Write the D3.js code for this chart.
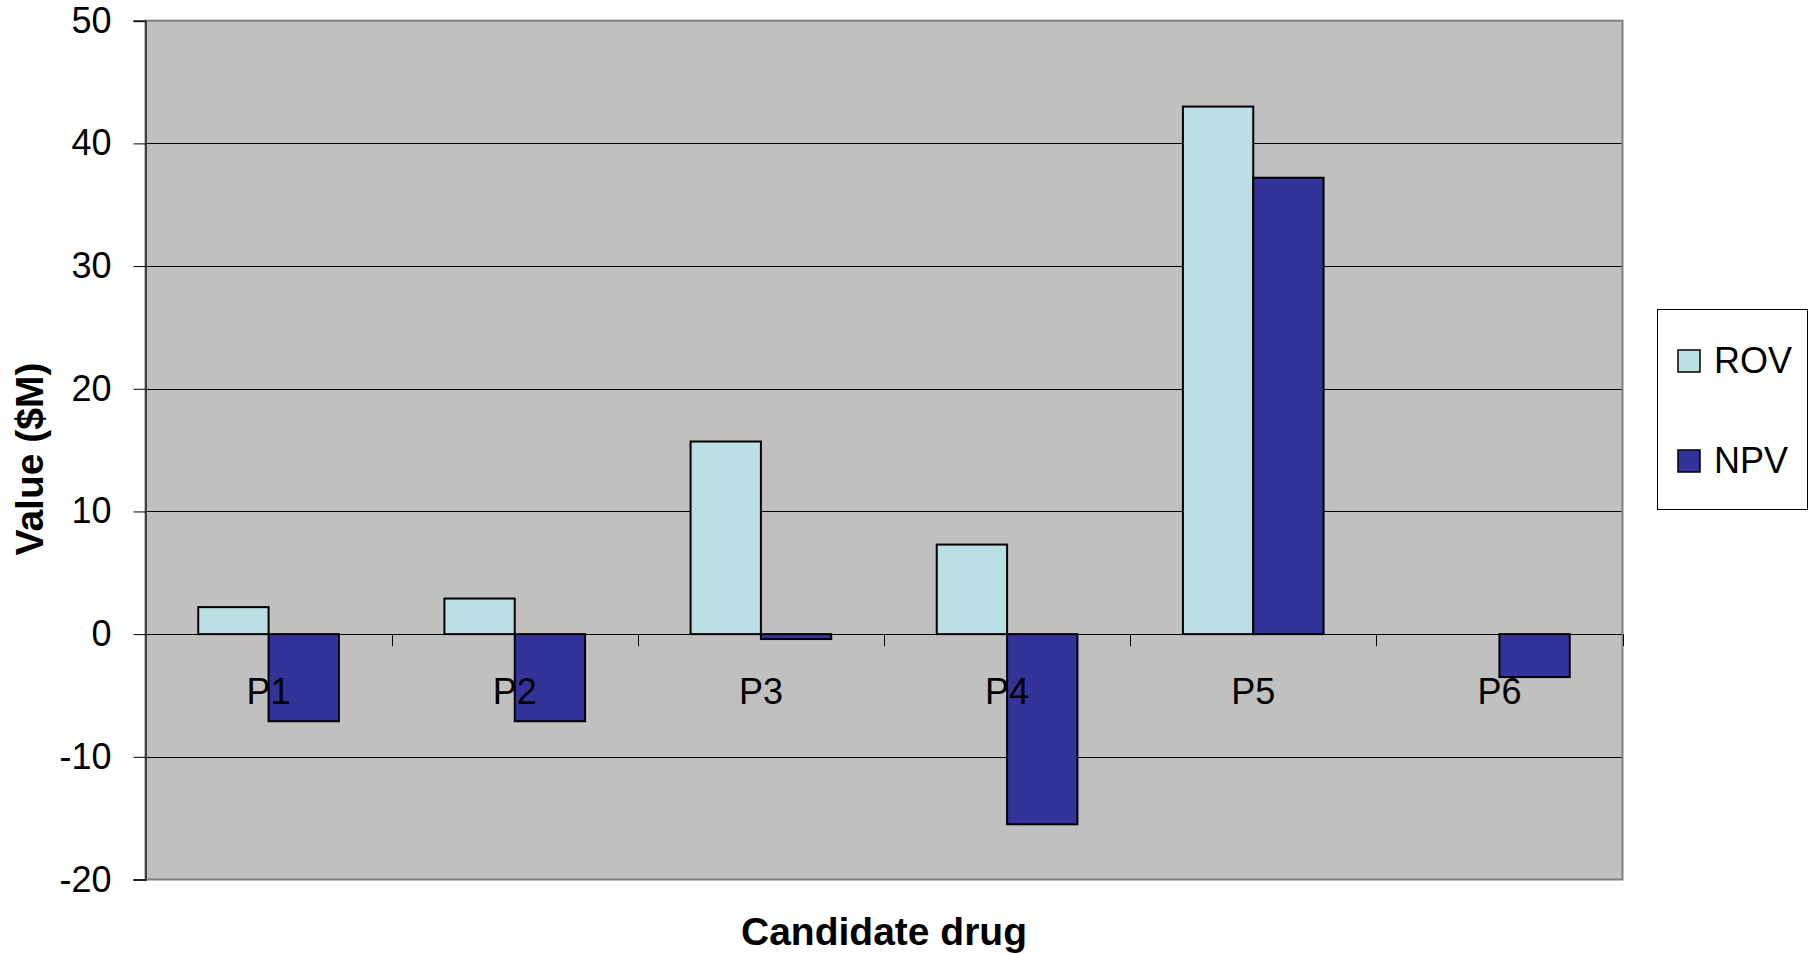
<!DOCTYPE html>
<html>
<head>
<meta charset="utf-8">
<script src="https://cdn.jsdelivr.net/npm/d3@7"></script>
<style>
  html, body { margin: 0; padding: 0; background: #ffffff; }
  svg { display: block; }
  text { font-family: "Liberation Sans", Arial, sans-serif; fill: #000; }
</style>
</head>
<body>
<svg id="chart" width="1814" height="955"></svg>
<script>
const categories = ["P1", "P2", "P3", "P4", "P5", "P6"];
const seriesNames = ["ROV", "NPV"];
const rovValues = [2.2, 2.9, 15.7, 7.3, 43.0, 0];
const npvValues = [-7.1, -7.1, -0.4, -15.5, 37.2, -3.5];
const yTicks = [-20, -10, 0, 10, 20, 30, 40, 50];
const seriesColors = ["#BBE0E3", "#333399"];

const svg = d3.select("#chart");
const plot = { left: 145.5, right: 1622.5, top: 20.7, bottom: 879.5 };

const x0 = d3.scaleBand().domain(categories).range([plot.left, plot.right]).paddingInner(0).paddingOuter(0);
const x1 = d3.scaleBand().domain(seriesNames).range([0, x0.bandwidth()]).paddingInner(0).paddingOuter(0.75);
const y = d3.scaleLinear().domain([-20, 50]).range([plot.bottom, plot.top]);
const color = d3.scaleOrdinal().domain(seriesNames).range(seriesColors);

// plot background
svg.append("rect")
  .attr("x", plot.left).attr("y", plot.top)
  .attr("width", plot.right - plot.left).attr("height", plot.bottom - plot.top)
  .attr("fill", "#C0C0C0");

// gridlines
svg.append("g").selectAll("line")
  .data(yTicks.filter(d => d > -20 && d < 50))
  .join("line")
  .attr("x1", plot.left).attr("x2", plot.right)
  .attr("y1", d => Math.round(y(d)) + 0.5).attr("y2", d => Math.round(y(d)) + 0.5)
  .attr("stroke", "#000").attr("stroke-width", 1);

// border (top/right/bottom)
svg.append("rect")
  .attr("x", plot.left).attr("y", plot.top)
  .attr("width", plot.right - plot.left).attr("height", plot.bottom - plot.top)
  .attr("fill", "none").attr("stroke", "#808080").attr("stroke-width", 2);

// bars
const data = categories.map((c, i) => ({ cat: c, vals: [
  { s: "ROV", v: rovValues[i] }, { s: "NPV", v: npvValues[i] } ] }));

const groups = svg.append("g").selectAll("g")
  .data(data).join("g")
  .attr("transform", d => `translate(${x0(d.cat)},0)`);

groups.selectAll("rect")
  .data(d => d.vals.filter(e => e.v !== 0))
  .join("rect")
  .attr("x", d => x1(d.s))
  .attr("width", x1.bandwidth())
  .attr("y", d => y(Math.max(0, d.v)))
  .attr("height", d => Math.abs(y(d.v) - y(0)))
  .attr("fill", d => color(d.s))
  .attr("stroke", "#000").attr("stroke-width", 2);

// category ticks on zero line
const boundaries = categories.map(c => x0(c)).concat([plot.right]);
svg.append("g").selectAll("line")
  .data(boundaries).join("line")
  .attr("x1", d => Math.round(d) + 0.5).attr("x2", d => Math.round(d) + 0.5)
  .attr("y1", y(0)).attr("y2", y(0) + 12)
  .attr("stroke", "#000").attr("stroke-width", 1);

// category labels
svg.append("g").selectAll("text")
  .data(categories).join("text")
  .attr("x", d => x0(d) + x0.bandwidth() / 2)
  .attr("y", 704)
  .attr("text-anchor", "middle")
  .attr("font-size", 36)
  .text(d => d);

// y axis
const yAxis = d3.axisLeft(y).tickValues(yTicks).tickSize(12).tickPadding(22).tickFormat(d => String(d));
const yg = svg.append("g").attr("transform", `translate(${plot.left},0)`).call(yAxis);
yg.select(".domain").attr("stroke", "#404040").attr("stroke-width", 2);
yg.selectAll(".tick line").attr("stroke", "#000").attr("stroke-width", 1);
yg.selectAll(".tick text")
  .attr("font-size", 36)
  .attr("font-family", "'Liberation Sans', Arial, sans-serif")
  .attr("fill", "#000");

// axis titles
svg.append("text")
  .attr("x", 884).attr("y", 945)
  .attr("text-anchor", "middle")
  .attr("font-size", 39).attr("font-weight", "bold")
  .text("Candidate drug");

svg.append("text")
  .attr("transform", "translate(43,459) rotate(-90)")
  .attr("text-anchor", "middle")
  .attr("font-size", 39).attr("font-weight", "bold")
  .text("Value ($M)");

// legend
const legend = svg.append("g");
legend.append("rect")
  .attr("x", 1657.5).attr("y", 309.5).attr("width", 150).attr("height", 200)
  .attr("fill", "#fff").attr("stroke", "#000").attr("stroke-width", 1);
const items = legend.selectAll("g.item").data(seriesNames).join("g")
  .attr("class", "item")
  .attr("transform", (d, i) => `translate(0,${i * 100})`);
items.append("rect")
  .attr("x", 1678).attr("y", 350).attr("width", 22).attr("height", 22)
  .attr("fill", d => color(d)).attr("stroke", "#000").attr("stroke-width", 1.5);
items.append("text")
  .attr("x", 1714).attr("y", 373)
  .attr("font-size", 36)
  .text(d => d);
</script>
</body>
</html>
